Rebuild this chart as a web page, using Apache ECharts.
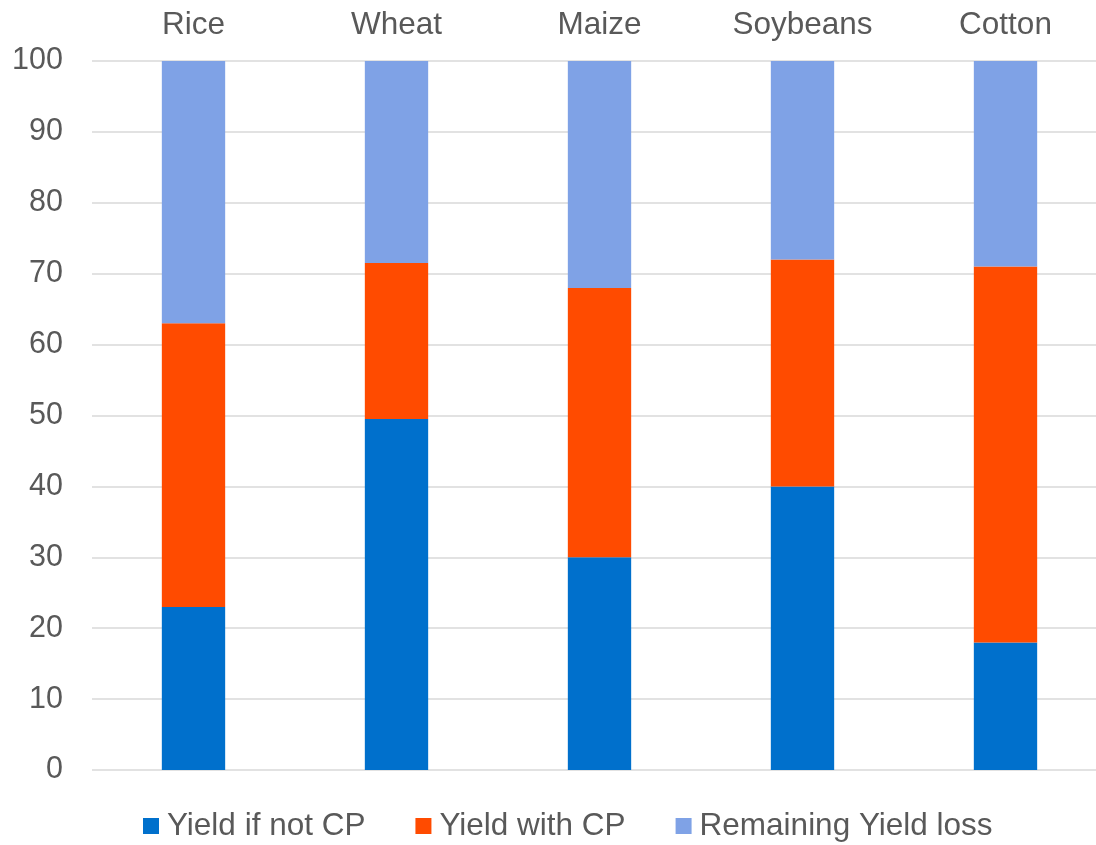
<!DOCTYPE html>
<html>
<head>
<meta charset="utf-8">
<script src="https://cdn.jsdelivr.net/npm/echarts@6/dist/echarts.min.js"></script>
<style>
  html, body { margin: 0; padding: 0; background: #ffffff; overflow: hidden; }
  #chart { width: 1096px; height: 845px; }
</style>
</head>
<body>
<div id="chart"></div>
<script>
// Crops and yield shares (percent of attainable yield)
const crops = ['Rice', 'Wheat', 'Maize', 'Soybeans', 'Cotton'];
const yieldIfNotCP = [23, 49.5, 30, 40, 18];
const yieldWithCP = [40, 22, 38, 32, 53];
const remainingLoss = [37, 28.5, 32, 28, 29];
const seriesNames = ['Yield if not CP', 'Yield with CP', 'Remaining Yield loss'];
const seriesColors = ['#0070CC', '#FF4B00', '#7FA2E6'];

const textColor = '#595959';
const fontFamily = 'Liberation Sans, Arial, sans-serif';
const fontSize = 31.5;

const chart = echarts.init(document.getElementById('chart'), null, { renderer: 'canvas' });

const values = [yieldIfNotCP, yieldWithCP, remainingLoss];

chart.setOption({
  animation: false,
  backgroundColor: '#ffffff',
  textStyle: { fontFamily: fontFamily },
  // plot area runs a little past the right edge of the canvas
  grid: { left: 92, width: 1015, top: 61, height: 709, outerBoundsMode: 'none', containLabel: false },
  legend: {
    top: 805,
    left: 138,
    itemWidth: 16,
    itemHeight: 16,
    itemGap: 50,
    icon: 'rect',
    textStyle: { color: textColor, fontSize: fontSize, fontFamily: fontFamily, padding: [0, 0, 0, 3] },
    data: seriesNames
  },
  xAxis: {
    type: 'category',
    position: 'top',
    data: crops,
    axisLine: { show: false },
    axisTick: { show: false },
    axisLabel: { color: textColor, fontSize: fontSize, fontFamily: fontFamily, margin: 20 }
  },
  yAxis: {
    type: 'value',
    min: 0,
    max: 100,
    interval: 10,
    axisLine: { show: false },
    axisTick: { show: false },
    axisLabel: { color: textColor, fontSize: 30.5, fontFamily: fontFamily, margin: 29 },
    splitLine: { lineStyle: { color: '#D9D9D9', width: 1.5 } }
  },
  series: seriesNames.map((name, i) => ({
    name: name,
    type: 'bar',
    stack: 'total',
    barWidth: '31.2%',
    itemStyle: { color: seriesColors[i] },
    data: values[i]
  }))
});
</script>
</body>
</html>
